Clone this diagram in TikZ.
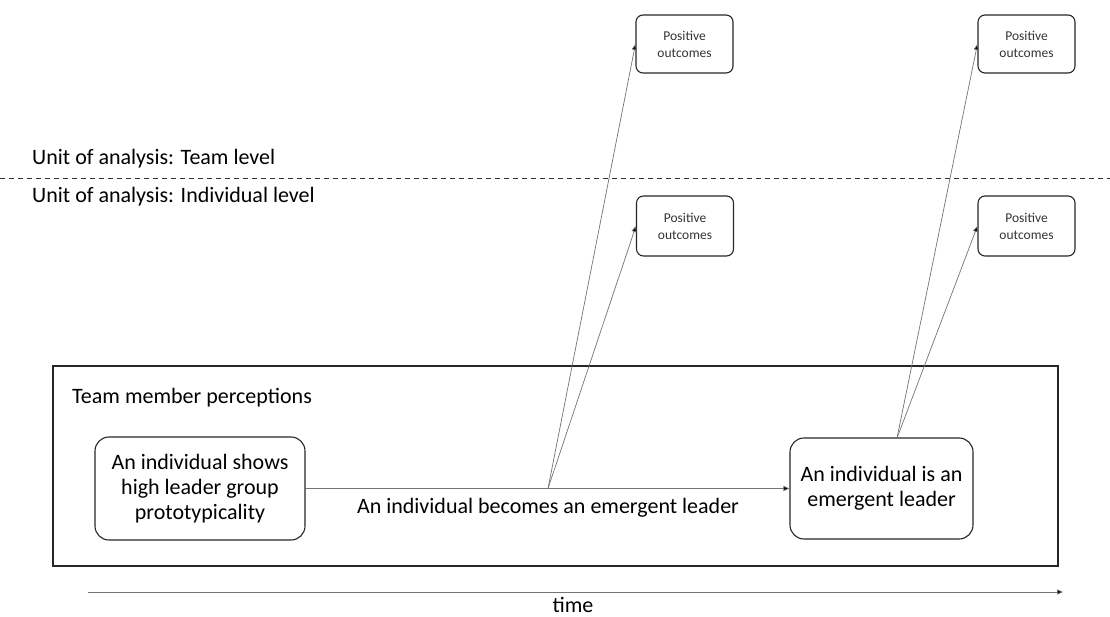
\documentclass[tikz,border=0pt]{standalone}
\usepackage{fontspec}
\setmainfont{Carlito}
\usetikzlibrary{arrows.meta}
\begin{document}
\begin{tikzpicture}[x=1pt,y=-1pt,
  outbox/.style={draw=black!85,line width=1.1pt,rounded corners=7pt,minimum width=97pt,minimum height=58pt,align=center,font=\fontsize{13.5}{17}\selectfont,text=black!80,inner sep=2pt},
  statebox/.style={draw=black!85,line width=1.1pt,rounded corners=14pt,align=center,font=\fontsize{22}{25}\selectfont,inner sep=2pt},
  conn/.style={draw=black!55,line width=0.7pt,-{Triangle[length=6pt,width=5pt,fill=black]}},
  lbl/.style={font=\fontsize{22}{26}\selectfont,anchor=west,inner sep=0pt}]
\useasboundingbox (0,0) rectangle (1110,617);
% top-level boxes
\node[outbox] (p1) at (684.5,44) {Positive\\outcomes};
\node[outbox] (p2) at (1026.5,44) {Positive\\outcomes};
\node[outbox,minimum height=60pt] (p3) at (685,226) {Positive\\outcomes};
\node[outbox,minimum height=60pt] (p4) at (1026.5,226) {Positive\\outcomes};
% level labels
\node[lbl] (tl) at (32,159) {Unit of analysis: Team level};
\coordinate (dl) at (0,178);
\coordinate (dr) at (1110,178);
\draw[dashed,dash pattern=on 5pt off 4pt,line width=0.9pt,black!80] (dl) -- (dr);
\node[lbl] (il) at (32,197) {Unit of analysis: Individual level};
% team frame
\node[draw=black!85,line width=1.1pt,minimum width=1005pt,minimum height=200pt,inner sep=0pt] (frame) at (555.5,466) {};
\node[lbl] (tm) at (72,398) {Team member perceptions};
% state boxes
\node[statebox,minimum width=210pt,minimum height=103pt] (a) at (200,488.5) {An individual shows\\high leader group\\prototypicality};
\node[statebox,minimum width=183pt,minimum height=101pt] (b) at (881.5,488.5) {An individual is an\\emergent leader};
\draw[conn] (a.east) -- (b.west);
\coordinate (br) at (548,488.5);
\node[font=\fontsize{22}{26}\selectfont,inner sep=0pt] (ml) at (548,508) {An individual becomes an emergent leader};
\draw[conn] (br) -- (p1.west);
\draw[conn] (br) -- (p3.west);
\coordinate (bt) at (897,438);
\draw[conn] (bt) -- (p2.west);
\draw[conn] (bt) -- (p4.west);
% time axis
\coordinate (t0) at (88,592);
\coordinate (t1) at (1063,592);
\draw[conn] (t0) -- (t1);
\node[font=\fontsize{22}{26}\selectfont,inner sep=0pt,anchor=base] (time) at (573,612) {time};
\end{tikzpicture}
\end{document}
